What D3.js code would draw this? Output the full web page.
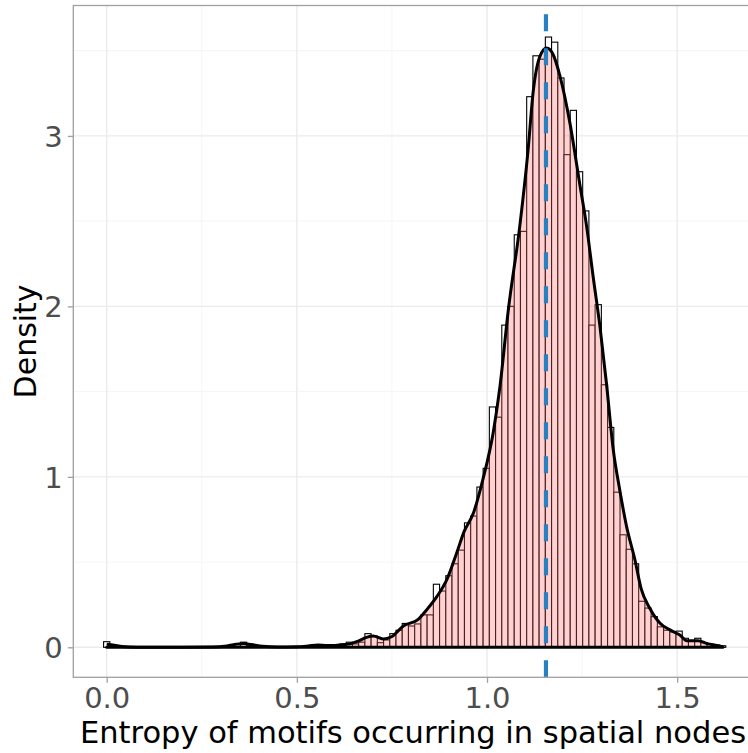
<!DOCTYPE html>
<html><head><meta charset="utf-8">
<script src="https://cdn.jsdelivr.net/npm/d3@7"></script>
<style>
html,body{margin:0;padding:0;background:#fff;}
svg text{font-family:"DejaVu Sans",sans-serif;}
</style></head>
<body>
<svg id="chart" width="748" height="753"></svg>
<script>
// ---- data ----
const binWidth = 0.01636;
const histDensity = [
  0.033,0.003,0.002,0.001,0.001,0.001,0.001,0.000,0.001,0.001,
  0.000,0.001,0.001,0.000,0.001,0.001,0.001,0.001,0.002,0.004,
  0.008,0.020,0.030,0.012,0.004,0.002,0.002,0.001,0.002,0.002,
  0.003,0.003,0.004,0.006,0.015,0.008,0.008,0.012,0.020,0.030,
  0.020,0.030,0.080,0.066,0.027,0.043,0.080,0.100,0.140,0.125,
  0.137,0.190,0.190,0.370,0.330,0.420,0.490,0.570,0.730,0.770,
  0.940,1.050,1.410,1.350,1.890,2.000,2.420,2.440,3.230,3.470,
  3.450,3.580,3.550,3.340,2.890,3.150,2.790,2.560,1.890,2.010,
  1.540,1.290,0.910,0.660,0.575,0.490,0.270,0.230,0.180,0.120,
  0.100,0.090,0.095,0.053,0.037,0.053,0.027,0.018,0.013,0.009
];
const densX = [0.000,0.020,0.040,0.060,0.100,0.200,0.280,0.310,0.340,0.360,0.380,0.410,0.450,0.500,0.530,0.555,0.580,0.600,0.620,0.640,0.660,0.683,0.701,0.727,0.749,0.780,0.819,0.841,0.868,0.894,0.920,0.940,0.964,0.990,1.016,1.034,1.056,1.086,1.108,1.121,1.139,1.157,1.174,1.192,1.218,1.244,1.262,1.279,1.297,1.314,1.332,1.349,1.367,1.389,1.405,1.428,1.455,1.481,1.507,1.525,1.555,1.577,1.604,1.620];
const densY = [0.018,0.012,0.005,0.002,0.001,0.001,0.002,0.006,0.018,0.022,0.016,0.006,0.002,0.003,0.008,0.014,0.010,0.010,0.015,0.020,0.035,0.058,0.066,0.049,0.062,0.125,0.164,0.219,0.297,0.395,0.552,0.680,0.786,0.992,1.256,1.529,1.979,2.468,2.918,3.251,3.466,3.515,3.476,3.349,3.075,2.715,2.468,2.175,1.881,1.549,1.158,0.923,0.708,0.512,0.346,0.229,0.141,0.102,0.072,0.039,0.039,0.023,0.010,0.003];
const meanValue = 1.155;
const xTicks = [0, 0.5, 1.0, 1.5];
const xMinor = [0.25, 0.75, 1.25];
const yTicks = [0, 1, 2, 3];
const yMinor = [0.5, 1.5, 2.5, 3.5];
const xTitle = "Entropy of motifs occurring in spatial nodes";
const yTitle = "Density";

// ---- layout ----
const svg = d3.select("#chart");
const P = {left:73.3, right:758, top:5.5, bottom:677.3};
const x = d3.scaleLinear().domain([-0.0878, 1.7125]).range([P.left, P.right]);
const y = d3.scaleLinear().domain([-0.176, 3.765]).range([P.bottom, P.top]);

svg.append("defs").append("clipPath").attr("id","clip")
  .append("rect").attr("x",P.left).attr("y",P.top).attr("width",P.right-P.left).attr("height",P.bottom-P.top);

const grid = svg.append("g").attr("clip-path","url(#clip)");
grid.selectAll(".xm").data(xMinor).join("line")
  .attr("x1",d=>x(d)).attr("x2",d=>x(d)).attr("y1",P.top).attr("y2",P.bottom)
  .attr("stroke","#f2f2f2").attr("stroke-width",0.8);
grid.selectAll(".ym").data(yMinor).join("line")
  .attr("y1",d=>y(d)).attr("y2",d=>y(d)).attr("x1",P.left).attr("x2",P.right)
  .attr("stroke","#f2f2f2").attr("stroke-width",0.8);
grid.selectAll(".xM").data(xTicks).join("line")
  .attr("x1",d=>x(d)).attr("x2",d=>x(d)).attr("y1",P.top).attr("y2",P.bottom)
  .attr("stroke","#ebebeb").attr("stroke-width",1.4);
grid.selectAll(".yM").data(yTicks).join("line")
  .attr("y1",d=>y(d)).attr("y2",d=>y(d)).attr("x1",P.left).attr("x2",P.right)
  .attr("stroke","#ebebeb").attr("stroke-width",1.4);

const plot = svg.append("g").attr("clip-path","url(#clip)");
// histogram
plot.selectAll("rect.bar").data(histDensity).join("rect").attr("class","bar")
  .attr("x",(d,i)=>x((i-0.5)*binWidth))
  .attr("width",(d,i)=>x((i+0.5)*binWidth)-x((i-0.5)*binWidth))
  .attr("y",d=>y(d)).attr("height",d=>y(0)-y(d))
  .attr("fill","#ffffff").attr("stroke","#000").attr("stroke-width",1.1);

// density
const pts = densX.map((v,i)=>[v,densY[i]]);
const area = d3.area().x(d=>x(d[0])).y0(y(0)).y1(d=>y(d[1])).curve(d3.curveMonotoneX);
plot.append("path").datum(pts).attr("d",area)
  .attr("fill","#ff6666").attr("fill-opacity",0.3).attr("stroke","none");
const line = d3.line().x(d=>x(d[0])).y(d=>y(d[1])).curve(d3.curveMonotoneX);
plot.append("path").datum(pts).attr("d",line)
  .attr("fill","none").attr("stroke","#000").attr("stroke-width",3).attr("stroke-linejoin","round");
plot.append("line").attr("x1",x(densX[0])).attr("x2",x(densX[densX.length-1]))
  .attr("y1",y(0)).attr("y2",y(0)).attr("stroke","#000").attr("stroke-width",3).attr("stroke-linecap","round");

// mean line (drawn bottom to top)
plot.append("line").attr("x1",x(meanValue)).attr("x2",x(meanValue))
  .attr("y1",P.bottom).attr("y2",P.top)
  .attr("stroke","#2680c2").attr("stroke-width",4.2).attr("stroke-dasharray","17,17");

// border
svg.append("rect").attr("x",P.left).attr("y",P.top).attr("width",P.right-P.left).attr("height",P.bottom-P.top)
  .attr("fill","none").attr("stroke","#a0a0a0").attr("stroke-width",1.3);

// axes
const xAxis = d3.axisBottom(x).tickValues(xTicks).tickFormat(d3.format(".1f")).tickSizeOuter(0).tickSize(5.5);
const gx = svg.append("g").attr("transform",`translate(0,${P.bottom})`).call(xAxis);
gx.select(".domain").remove();
gx.selectAll(".tick line").attr("stroke","#a0a0a0").attr("stroke-width",1.3);
gx.selectAll(".tick text").attr("fill","#4d4d4d").attr("font-size",29).attr("y",31).attr("dy",null)
  .style("font-family",'"DejaVu Sans",sans-serif');

const yAxis = d3.axisLeft(y).tickValues(yTicks).tickFormat(d3.format("d")).tickSizeOuter(0).tickSize(5.5).tickPadding(5);
const gy = svg.append("g").attr("transform",`translate(${P.left},0)`).call(yAxis);
gy.select(".domain").remove();
gy.selectAll(".tick line").attr("stroke","#a0a0a0").attr("stroke-width",1.3);
gy.selectAll(".tick text").attr("fill","#4d4d4d").attr("font-size",29).attr("dy","0.36em")
  .style("font-family",'"DejaVu Sans",sans-serif');

svg.append("text").attr("x",413).attr("y",743)
  .attr("text-anchor","middle").attr("font-size",30.5).attr("fill","#000").text(xTitle);
svg.append("text").attr("transform",`translate(36,${(P.top+P.bottom)/2}) rotate(-90)`)
  .attr("text-anchor","middle").attr("font-size",30).attr("fill","#000").text(yTitle);
</script>
</body></html>
